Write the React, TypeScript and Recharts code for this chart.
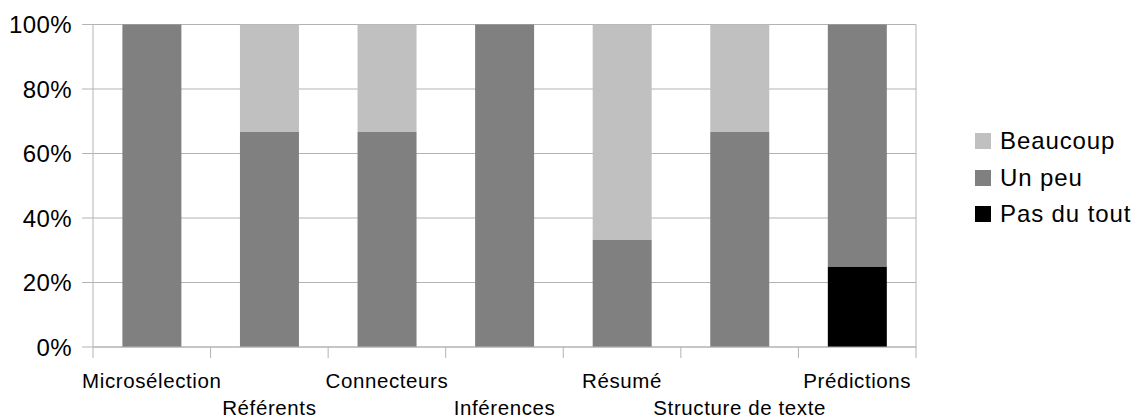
import { BarChart, Bar, XAxis, YAxis, CartesianGrid } from 'recharts'

document.body.style.margin = '0'

const categories = [
  'Microsélection',
  'Référents',
  'Connecteurs',
  'Inférences',
  'Résumé',
  'Structure de texte',
  'Prédictions',
]

// share of answers per category, in percent
const pasDuTout = [0, 0, 0, 0, 0, 0, 25]
const unPeu = [100, 66.67, 66.67, 100, 33.33, 66.67, 75]
const beaucoup = [0, 33.33, 33.33, 0, 66.67, 33.33, 0]

const yTicks = [0, 20, 40, 60, 80, 100]

// stacking order, bottom to top
const series = [
  { key: 'pasDuTout', name: 'Pas du tout', color: '#000000' },
  { key: 'unPeu', name: 'Un peu', color: '#808080' },
  { key: 'beaucoup', name: 'Beaucoup', color: '#c0c0c0' },
]

const data = categories.map((name, i) => ({
  name,
  pasDuTout: pasDuTout[i],
  unPeu: unPeu[i],
  beaucoup: beaucoup[i],
}))

const FONT = '"Liberation Sans", Arial, sans-serif'
const GRID = '#b3b3b3'

// category labels alternate between two rows, ticks sit on the band edges
function CategoryTick(props: any) {
  const { x, y, payload, index, visibleTicksCount, width } = props
  const half = payload?.offset || width / visibleTicksCount / 2
  const left = x - half
  const last = index === visibleTicksCount - 1
  const lower = index % 2 === 1
  return (
    <g>
      <line x1={left} x2={left} y1={y} y2={y + 11} stroke={GRID} strokeWidth={1} />
      {last && <line x1={x + half} x2={x + half} y1={y} y2={y + 11} stroke={GRID} strokeWidth={1} />}
      <text
        x={x}
        y={y + (lower ? 68 : 41)}
        textAnchor="middle"
        fontFamily={FONT}
        fontSize={20.5}
        letterSpacing={0.6}
        fill="#000"
      >
        {payload.value}
      </text>
    </g>
  )
}

function SideLegend() {
  const items = [...series].reverse()
  return (
    <div style={{ position: 'absolute', left: 975, top: 123 }}>
      {items.map((s) => (
        <div key={s.key} style={{ display: 'flex', alignItems: 'center', height: 36.5 }}>
          <span style={{ width: 16, height: 16, background: s.color, display: 'inline-block' }} />
          <span
            style={{
              marginLeft: 9,
              fontFamily: FONT,
              fontSize: 24,
              letterSpacing: 0.9,
              color: '#000',
              lineHeight: '24px',
              whiteSpace: 'nowrap',
            }}
          >
            {s.name}
          </span>
        </div>
      ))}
    </div>
  )
}

export default function App() {
  return (
    <div style={{ position: 'relative', width: 1135, height: 419, background: '#fff', overflow: 'hidden' }}>
      <BarChart
        width={1135}
        height={419}
        data={data}
        margin={{ top: 24.5, right: 218, bottom: 0, left: 0 }}
        barCategoryGap="25%"
      >
        <CartesianGrid horizontal vertical={false} stroke={GRID} />
        <XAxis
          dataKey="name"
          height={72}
          interval={0}
          axisLine={{ stroke: GRID }}
          tickLine={false}
          tickSize={0}
          tickMargin={0}
          tick={<CategoryTick />}
        />
        <YAxis
          width={93}
          domain={[0, 100]}
          ticks={yTicks}
          tickFormatter={(v) => `${v}%`}
          axisLine={{ stroke: GRID }}
          tickLine={{ stroke: GRID }}
          tickSize={11}
          tickMargin={10}
          tick={{ fontFamily: FONT, fontSize: 24, fill: '#000', letterSpacing: 0.4 }}
        />
        <YAxis
          yAxisId="edge"
          orientation="right"
          width={1}
          domain={[0, 100]}
          tick={false}
          tickLine={false}
          axisLine={{ stroke: GRID }}
        />
        {series.map((s) => (
          <Bar key={s.key} dataKey={s.key} name={s.name} stackId="a" fill={s.color} isAnimationActive={false} />
        ))}
      </BarChart>
      <SideLegend />
    </div>
  )
}
